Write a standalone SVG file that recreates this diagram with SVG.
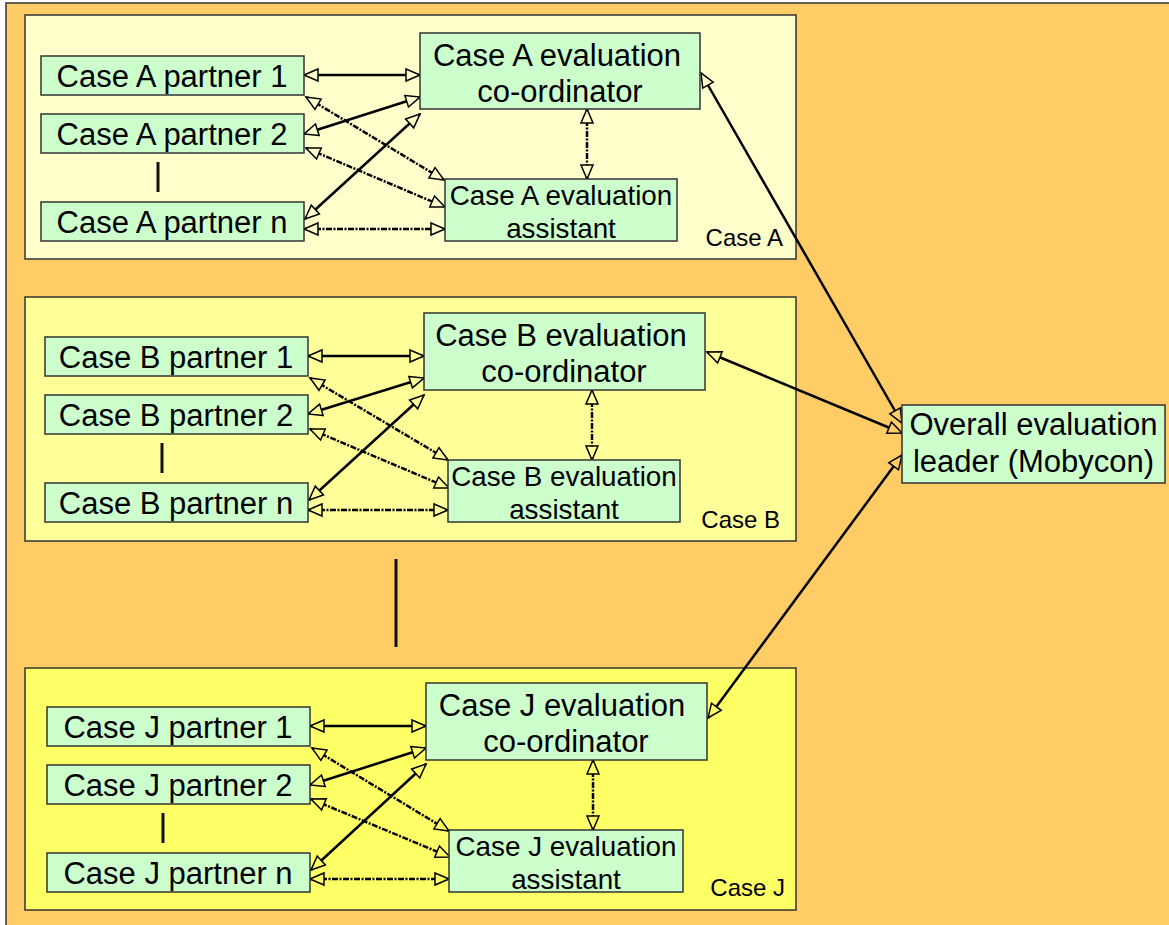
<svg xmlns="http://www.w3.org/2000/svg" width="1169" height="925" viewBox="0 0 1169 925">
<defs>
<style>
.bg{fill:#FFCC66;stroke:#333;stroke-width:1.5}
.panel{stroke:#333;stroke-width:1.5}
.node{fill:#CCFFCC;stroke:#333;stroke-width:1.5}
.t{font-family:"Liberation Sans",Arial,sans-serif;fill:#000;text-anchor:middle}
.t30{font-size:31px}
.t27{font-size:27.8px}
.lbl{font-family:"Liberation Sans",Arial,sans-serif;font-size:24px;fill:#000;text-anchor:end}
.solid{fill:none;stroke:#000;stroke-width:2.5}
.dash{fill:none;stroke:#000;stroke-width:2.5;stroke-dasharray:6 1.5 2 1.5}
.dots{stroke:#111;stroke-width:3}
.A{marker-start:url(#mA);marker-end:url(#mA)}
.B{marker-start:url(#mB);marker-end:url(#mB)}
.J{marker-start:url(#mJ);marker-end:url(#mJ)}
</style>
<marker id="mA" viewBox="-2 -2 18 16" refX="14" refY="6" markerWidth="18" markerHeight="16" markerUnits="userSpaceOnUse" orient="auto-start-reverse"><path d="M0,0 L14,6 L0,12 Z" fill="#FFFFCC" stroke="#000" stroke-width="1.5" stroke-dasharray="none"/></marker>
<marker id="mB" viewBox="-2 -2 18 16" refX="14" refY="6" markerWidth="18" markerHeight="16" markerUnits="userSpaceOnUse" orient="auto-start-reverse"><path d="M0,0 L14,6 L0,12 Z" fill="#FFFF99" stroke="#000" stroke-width="1.5" stroke-dasharray="none"/></marker>
<marker id="mJ" viewBox="-2 -2 18 16" refX="14" refY="6" markerWidth="18" markerHeight="16" markerUnits="userSpaceOnUse" orient="auto-start-reverse"><path d="M0,0 L14,6 L0,12 Z" fill="#FFFF66" stroke="#000" stroke-width="1.5" stroke-dasharray="none"/></marker>
<marker id="mO" viewBox="-2 -2 18 16" refX="14" refY="6" markerWidth="18" markerHeight="16" markerUnits="userSpaceOnUse" orient="auto-start-reverse"><path d="M0,0 L14,6 L0,12 Z" fill="#FFCC66" stroke="#000" stroke-width="1.5" stroke-dasharray="none"/></marker>
</defs>
<rect x="0" y="0" width="1169" height="925" fill="#FFFFFF"/>
<rect class="bg" x="6" y="3" width="1200" height="1000"/>

<g id="panelA">
<rect class="panel" x="25" y="15" width="771" height="244" fill="#FFFFCC"/>
<text class="lbl" x="783" y="246">Case A</text>
</g>
<g id="panelB">
<rect class="panel" x="25" y="297" width="771" height="244" fill="#FFFF99"/>
<text class="lbl" x="780" y="528">Case B</text>
</g>
<g id="panelJ">
<rect class="panel" x="25" y="668" width="771" height="242" fill="#FFFF66"/>
<text class="lbl" x="785" y="896">Case J</text>
</g>

<g id="ellipsis">
<line class="dots" x1="158" y1="162" x2="158" y2="192"/>
<line class="dots" x1="162" y1="443" x2="162" y2="473"/>
<line class="dots" x1="163" y1="813" x2="163" y2="843"/>
<line class="dots" x1="396" y1="559" x2="396" y2="647"/>
</g>

<g id="connectors">
<path class="solid A" d="M304,75 L420,75"/>
<path class="solid A" d="M304,134 L420,97"/>
<path class="solid A" d="M305,219 L420,114"/>
<path class="dash A" d="M306,97 L444,180"/>
<path class="dash A" d="M306,148 L445,207"/>
<path class="dash A" d="M304,229 L445,229"/>
<path class="dash A" d="M587,109 L587,179"/>

<path class="solid B" d="M308,356 L424,356"/>
<path class="solid B" d="M308,414 L424,378"/>
<path class="solid B" d="M309,500 L424,395"/>
<path class="dash B" d="M310,378 L448,460"/>
<path class="dash B" d="M310,429 L449,488"/>
<path class="dash B" d="M308,510 L448,510"/>
<path class="dash B" d="M592,390 L592,460"/>

<path class="solid J" d="M310,726 L426,726"/>
<path class="solid J" d="M310,785 L426,748"/>
<path class="solid J" d="M311,870 L426,764"/>
<path class="dash J" d="M312,748 L449,831"/>
<path class="dash J" d="M311,799 L450,857"/>
<path class="dash J" d="M310,879 L449,879"/>
<path class="dash J" d="M593,760 L593,830"/>

<path class="solid" d="M701,73 L902,423" marker-start="url(#mA)" marker-end="url(#mO)"/>
<path class="solid" d="M707,352 L902,433" marker-start="url(#mB)" marker-end="url(#mO)"/>
<path class="solid" d="M708,718 L902,455" marker-start="url(#mJ)" marker-end="url(#mO)"/>
</g>

<g id="A_partner1"><rect class="node" x="41" y="56" width="263" height="39"/><text class="t t30" x="172" y="86.5">Case A partner 1</text></g>
<g id="A_partner2"><rect class="node" x="41" y="114" width="263" height="39"/><text class="t t30" x="172" y="144.5">Case A partner 2</text></g>
<g id="A_partnern"><rect class="node" x="41" y="202" width="263" height="39"/><text class="t t30" x="172" y="232.5">Case A partner n</text></g>
<g id="A_coordinator"><rect class="node" x="420" y="33" width="280" height="76"/><text class="t t30" x="557" y="66">Case A evaluation</text><text class="t t30" x="560" y="102">co-ordinator</text></g>
<g id="A_assistant"><rect class="node" x="445" y="179" width="232" height="62"/><text class="t t27" x="561" y="205">Case A evaluation</text><text class="t t27" x="561" y="238">assistant</text></g>

<g id="B_partner1"><rect class="node" x="45" y="337" width="263" height="39"/><text class="t t30" x="176" y="367.5">Case B partner 1</text></g>
<g id="B_partner2"><rect class="node" x="45" y="395" width="263" height="39"/><text class="t t30" x="176" y="425.5">Case B partner 2</text></g>
<g id="B_partnern"><rect class="node" x="45" y="483" width="263" height="39"/><text class="t t30" x="176" y="513.5">Case B partner n</text></g>
<g id="B_coordinator"><rect class="node" x="424" y="313" width="281" height="77"/><text class="t t30" x="561" y="346">Case B evaluation</text><text class="t t30" x="564" y="382">co-ordinator</text></g>
<g id="B_assistant"><rect class="node" x="448" y="460" width="232" height="62"/><text class="t t27" x="564" y="486">Case B evaluation</text><text class="t t27" x="564" y="519">assistant</text></g>

<g id="J_partner1"><rect class="node" x="47" y="707" width="263" height="39"/><text class="t t30" x="178" y="737.5">Case J partner 1</text></g>
<g id="J_partner2"><rect class="node" x="47" y="765" width="263" height="39"/><text class="t t30" x="178" y="795.5">Case J partner 2</text></g>
<g id="J_partnern"><rect class="node" x="47" y="853" width="263" height="39"/><text class="t t30" x="178" y="883.5">Case J partner n</text></g>
<g id="J_coordinator"><rect class="node" x="426" y="683" width="281" height="77"/><text class="t t30" x="562" y="716">Case J evaluation</text><text class="t t30" x="566" y="752">co-ordinator</text></g>
<g id="J_assistant"><rect class="node" x="449" y="830" width="234" height="62"/><text class="t t27" x="566" y="856">Case J evaluation</text><text class="t t27" x="566" y="889">assistant</text></g>

<g id="leader"><rect class="node" x="902" y="405" width="263" height="78"/><text class="t t30" x="1033.5" y="435">Overall evaluation</text><text class="t t30" x="1033.5" y="472">leader (Mobycon)</text></g>
</svg>
